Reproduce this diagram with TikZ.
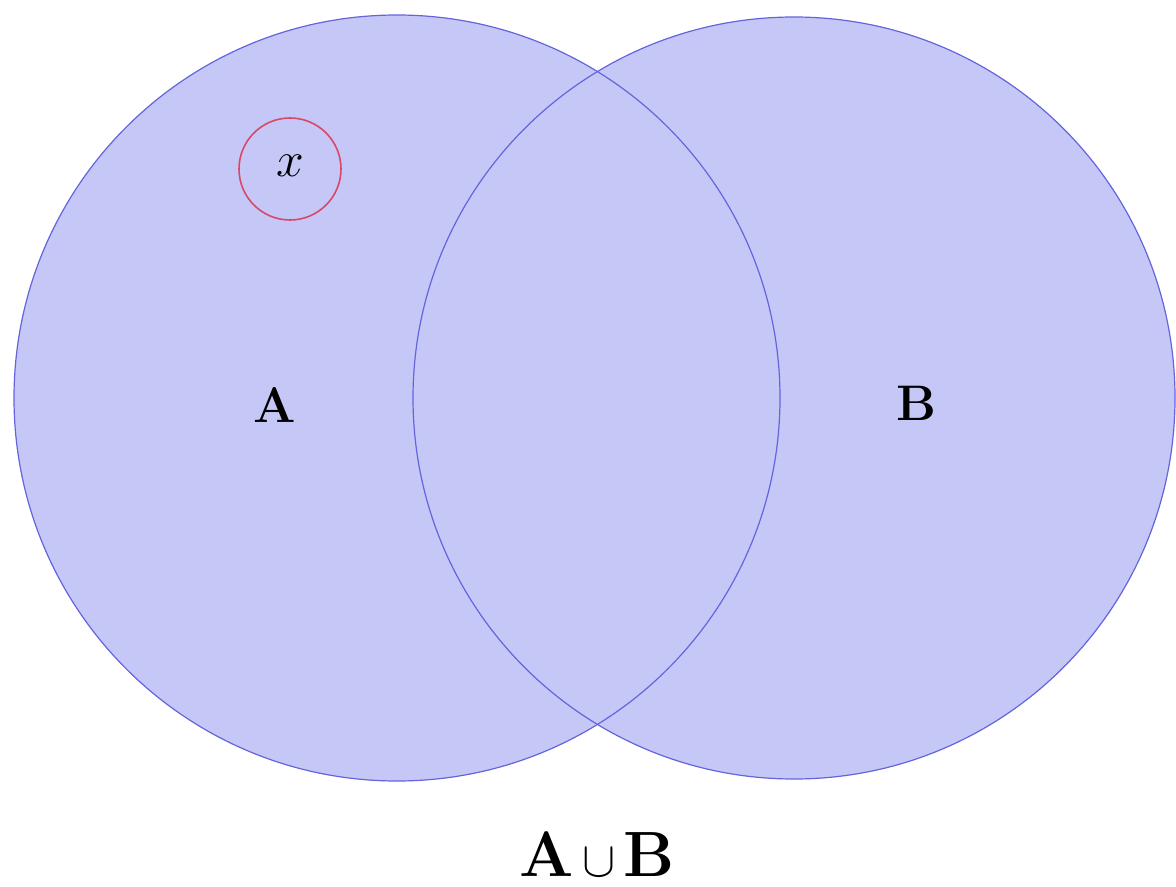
\documentclass[tikz,border=0pt]{standalone}
\definecolor{setfill}{HTML}{C5C8F7}
\definecolor{setline}{HTML}{6464DC}
\definecolor{xred}{HTML}{D9486A}
\begin{document}
\begin{tikzpicture}[x=0.5pt,y=-0.5pt,
  setcircle/.style={circle,minimum size=#1,inner sep=0pt},
  outline/.style={draw=setline,line width=0.6pt},
  lbl/.style={font=\fontsize{25}{30}\selectfont\bfseries}]
\useasboundingbox[fill=white] (0,0) rectangle (1176,887);
\node[setcircle=383pt,fill=setfill] (A) at (397,398) {};
\node[setcircle=381pt,fill=setfill] (B) at (794,398) {};
\node[setcircle=383pt,outline] at (A) {};
\node[setcircle=381pt,outline] at (B) {};
\node[circle,draw=xred,line width=0.8pt,minimum size=51pt,inner sep=0pt] (xc) at (290,169) {};
\node[font=\fontsize{32}{34}\selectfont] (x) at (290,166) {$x$};
\node[lbl] (la) at (275,405) {A};
\node[lbl] (lb) at (916,403) {B};
\node[font=\fontsize{32}{36}\selectfont\bfseries,inner sep=0pt] (u) at (597,854) {A$\,\cup\,$B};
\end{tikzpicture}
\end{document}
